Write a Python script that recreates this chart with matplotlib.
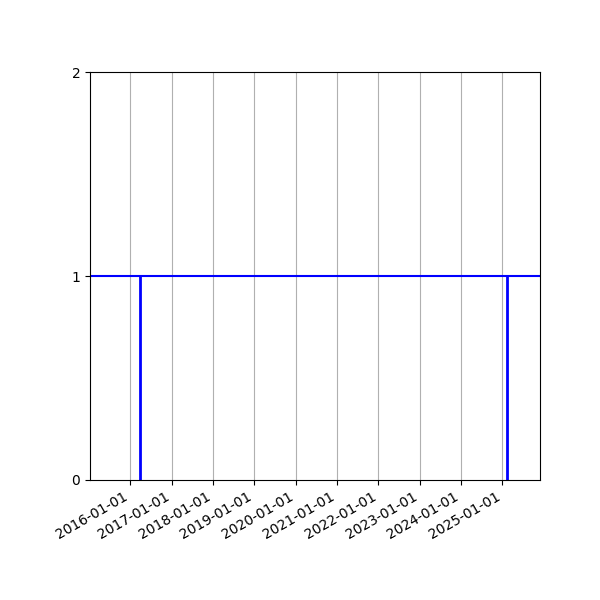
import matplotlib
matplotlib.use("Agg")
import matplotlib.pyplot as plt
import matplotlib.dates as mdates
import numpy as np
from datetime import datetime

# Data
event_dates = ["2016-03-25", "2025-02-11"]
event_low = [0, 0]
event_high = [1, 1]
baseline_value = 1
x_range = ["2015-01-10", "2025-11-29"]
y_ticks = [0, 1, 2]

ev = [datetime.fromisoformat(d) for d in event_dates]
xr = [datetime.fromisoformat(d) for d in x_range]

fig, ax = plt.subplots(figsize=(6, 6), dpi=100)
ax.axhline(baseline_value, color="blue", linewidth=1.5)
ax.vlines(ev, event_low, event_high, color="blue", linewidth=2)

ax.set_xlim(xr[0], xr[1])
ax.set_ylim(0, 2)
ax.set_yticks(y_ticks)
ax.xaxis.set_major_locator(mdates.YearLocator())
ax.xaxis.set_major_formatter(mdates.DateFormatter("%Y-%m-%d"))
ax.grid(True, axis="x", color="#b0b0b0", linewidth=0.8)
fig.autofmt_xdate()
fig.subplots_adjust(left=0.15, right=0.9, top=0.88, bottom=0.2)
fig.savefig("out.png", dpi=100)
